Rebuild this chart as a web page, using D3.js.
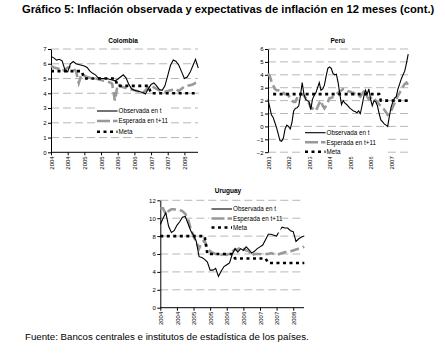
<!DOCTYPE html>
<meta charset="utf-8" />
<script src="https://d3js.org/d3.v7.min.js"></script>
<style>
  body { margin: 0; background: #fff; }
  text { font-family: Arial, "Liberation Sans", sans-serif; }
</style>
<div id="chart"></div>
<script>
  // 12-month inflation (%), monthly values

  // Colombia: Jan 2004 - Jun 2008
  const colombiaObs = [6.5, 6.4, 6.25, 6.3, 6.2, 5.6, 5.45, 6.0, 6.15, 6.0,
    5.95, 5.9, 5.85, 5.75, 5.5, 5.35, 5.25, 5.05, 5.0, 5.0,
    5.0, 4.95, 4.9, 4.85, 4.95, 5.1, 5.25, 5.05, 4.6, 4.3,
    4.2, 4.15, 4.1, 4.05, 3.95, 4.3, 4.6, 4.7, 4.5, 4.25,
    4.2, 4.5, 5.2, 5.9, 6.25, 6.15, 5.9, 5.45, 5.0, 5.1,
    5.4, 5.85, 6.3, 5.7];
  const colombiaExp = [5.85, 5.75, 5.7, 5.65, 5.5, 5.6, 5.75, 5.75, 5.7, 5.5,
    4.7, 5.3, 5.2, 5.1, 5.05, 5.0, 5.0, 4.95, 4.9, 4.85,
    4.8, 4.75, 4.65, 3.5, 4.6, 4.5, 4.4, 4.35, 4.3, 4.25,
    4.2, 4.15, 4.1, 4.0, 4.2, 4.4, 4.5, 4.4, 4.3, 4.2,
    4.1, 4.1, 4.15, 4.2, 4.25, 4.3, 4.15, 4.3, 4.45, 4.5,
    4.55, 4.6, 4.7, 4.75];
  const colombiaMeta = [5.5, 5.5, 5.5, 5.5, 5.5, 5.5, 5.5, 5.5, 5.5, 5.5, 5.5, 5.5,
    5.0, 5.0, 5.0, 5.0, 5.0, 5.0, 5.0, 5.0, 5.0, 5.0, 5.0, 5.0,
    4.5, 4.5, 4.5, 4.5, 4.5, 4.5, 4.5, 4.5, 4.5, 4.5, 4.5, 4.5,
    4.0, 4.0, 4.0, 4.0, 4.0, 4.0, 4.0, 4.0, 4.0, 4.0, 4.0, 4.0,
    4.0, 4.0, 4.0, 4.0, 4.0, 4.0];
  const colombiaTicks = ["2004", "2004", "2005", "2005", "2006", "2006", "2007", "2007", "2008"];

  // Perú: Jul 2001 - May 2008
  const peruObs = [2.1, 1.5, 0.9, 0.7, 0.3, -0.1, -0.6, -1.1, -1.15, -0.9,
    -0.2, 0.1, 0.0, -0.2, 0.3, 1.2, 1.4, 1.45, 1.6, 2.4,
    3.4, 2.5, 2.1, 2.0, 1.9, 1.3, 2.1, 2.4, 2.6, 3.0,
    3.4, 2.8, 2.9, 3.2, 3.9, 4.5, 4.6, 4.5, 4.1, 4.0,
    4.05, 3.4, 2.5, 1.7, 2.0, 1.8, 1.7, 1.55, 1.4, 1.3,
    1.2, 1.15, 1.05, 1.2, 1.0, 1.6, 2.3, 2.8, 2.5, 2.9,
    2.1, 1.6, 2.0, 1.9, 1.6, 1.0, 0.5, 0.35, 0.2, 0.1,
    0.0, 0.8, 1.5, 1.9, 2.2, 2.3, 2.9, 3.3, 3.7, 4.0,
    4.3, 4.9, 5.6];
  const peruExp = [4.1, 3.9, 3.5, 3.2, 2.9, 2.8, 2.8, 2.7, 2.6, 2.6,
    2.5, 2.5, 2.4, 2.2, 2.0, 1.9, 1.9, 2.2, 2.5, 2.5,
    2.5, 2.4, 2.2, 2.0, 1.8, 1.5, 1.4, 1.3, 1.2, 1.5,
    1.8, 2.0, 1.6, 1.4, 1.6, 1.9, 2.2, 2.2, 2.3, 2.4,
    2.5, 2.6, 2.7, 2.8, 2.9, 2.9, 2.8, 2.7, 2.7, 2.6,
    2.6, 2.5, 2.5, 2.4, 2.3, 2.5, 2.7, 2.7, 2.3, 2.1,
    2.2, 2.3, 2.2, 2.0, 1.9, 1.7, 1.6, 1.5, 1.3, 1.1,
    0.9, 1.0, 1.2, 1.5, 1.8, 2.1, 2.4, 2.6, 2.9, 3.1,
    3.3, 3.4, 3.2];
  const peruMeta = [null, null, null, 2.5, 2.5, 2.5, 2.5, 2.5, 2.5, 2.5,
    2.5, 2.5, 2.5, 2.5, 2.5, 2.5, 2.5, 2.5, 2.5, 2.5,
    2.5, 2.5, 2.5, 2.5, 2.5, 2.5, 2.5, 2.5, 2.5, 2.5,
    2.5, 2.5, 2.5, 2.5, 2.5, 2.5, 2.5, 2.5, 2.5, 2.5,
    2.5, 2.5, 2.5, 2.5, 2.5, 2.5, 2.5, 2.5, 2.5, 2.5,
    2.5, 2.5, 2.5, 2.5, 2.5, 2.5, 2.5, 2.5, 2.5, 2.5,
    2.5, 2.5, 2.5, 2.5, 2.5, 2.5, 2.0, 2.0, 2.0, 2.0,
    2.0, 2.0, 2.0, 2.0, 2.0, 2.0, 2.0, 2.0, 2.0, 2.0,
    2.0, 2.0, 2.0];
  const peruTicks = ["2001", "2002", "2003", "2004", "2005", "2006", "2007"];

  // Uruguay: Jan 2004 - May 2008
  const uruguayObs = [9.3, 10.0, 10.6, 9.1, 8.4, 8.6, 9.2, 9.6, 10.1, 10.2,
    9.4, 8.6, 8.1, 7.4, 5.7, 5.6, 5.4, 5.1, 4.2, 4.2,
    4.4, 3.5, 4.1, 4.6, 4.8, 5.0, 6.0, 6.6, 6.2, 6.6,
    6.4, 6.8, 6.5, 6.1, 6.3, 6.6, 6.8, 7.0, 7.6, 8.2,
    8.2, 8.1, 8.0, 8.6, 9.0, 8.9, 8.9, 8.6, 8.5, 7.4,
    7.7, 7.9, 8.0];
  const uruguayExp = [11.1, 11.1, 10.4, 10.8, 11.0, 11.0, 10.9, 10.9, 10.8, 10.5,
    9.9, 8.8, 8.0, 7.3, 6.6, 7.3, 7.5, 6.6, 6.3, 6.1,
    6.0, 6.0, 5.9, 6.0, 5.9, 6.1, 6.3, 6.5, 6.5, 6.8,
    6.6, 6.4, 6.3, 5.8, 6.0, 6.0, 6.0, 6.0, 6.0, 6.0,
    6.1, 6.0, 5.9, 6.0, 6.1, 6.2, 6.3, 6.3, 6.4, 6.5,
    6.6, 6.7, 6.8];
  const uruguayMeta = [8.0, 8.0, 8.0, 8.0, 8.0, 8.0, 8.0, 8.0, 8.0, 8.0,
    8.0, 8.0, 8.0, 8.0, 8.0, 8.0, 8.0, 6.0, 6.0, 6.0,
    6.0, 6.0, 6.0, 6.0, 6.0, 6.0, 6.0, 5.5, 5.5, 5.5,
    5.5, 5.5, 5.5, 5.5, 5.5, 5.5, 5.5, 5.5, 5.5, 5.0,
    5.0, 5.0, 5.0, 5.0, 5.0, 5.0, 5.0, 5.0, 5.0, 5.0,
    5.0, 5.0, 5.0];
  const uruguayTicks = ["2004", "2004", "2005", "2005", "2006", "2006", "2007", "2007", "2008"];

  const legendLabels = ["Observada en t", "Esperada en t+11", "Meta"];

  const svg = d3
    .select("#chart")
    .append("svg")
    .attr("width", 445)
    .attr("height", 364);

  svg
    .append("text")
    .attr("x", 22)
    .attr("y", 13)
    .style("font-size", "11.2px")
    .style("font-weight", "bold")
    .text("Gráfico 5: Inflación observada y expectativas de inflación en 12 meses (cont.)");

  svg
    .append("text")
    .attr("x", 25)
    .attr("y", 339.5)
    .style("font-size", "9.7px")
    .text("Fuente: Bancos centrales e institutos de estadística de los países.");

  function drawPanel(p) {
    const x = d3.scaleLinear().domain([0, p.obs.length - 1]).range([p.left, p.right]);
    const y = d3.scaleLinear().domain(p.yDomain).range([p.bottom, p.top]);
    const g = svg.append("g");

    // dashed gridlines
    g.append("g")
      .selectAll("line")
      .data(p.grid)
      .join("line")
      .attr("x1", p.left)
      .attr("x2", p.gridRight)
      .attr("y1", (d) => y(d))
      .attr("y2", (d) => y(d))
      .attr("stroke", "#a6a6a6")
      .attr("stroke-width", 0.8)
      .attr("stroke-dasharray", "8,4");

    // y axis
    const yAxis = g
      .append("g")
      .attr("transform", `translate(${p.left},0)`)
      .call(
        d3.axisLeft(y)
          .tickValues(p.yTicks)
          .tickFormat(d3.format("d"))
          .tickSize(3)
          .tickSizeOuter(0)
          .tickPadding(1.5)
      );
    yAxis.selectAll("text").style("font-size", "6px").style("font-family", "Arial, 'Liberation Sans', sans-serif");

    // x axis with rotated year labels
    const xAxis = g
      .append("g")
      .attr("transform", `translate(0,${p.bottom})`)
      .call(
        d3.axisBottom(x)
          .tickValues(p.ticks.map((t, i) => i * p.tickStep))
          .tickFormat((d) => p.ticks[d / p.tickStep])
          .tickSize(p.showXAxis ? 3 : 0)
          .tickSizeOuter(0)
      );
    xAxis.select(".domain").attr("d", `M${p.left},0H${p.gridRight}`);
    if (!p.showXAxis) xAxis.select(".domain").remove();
    xAxis
      .selectAll("text")
      .attr("transform", "rotate(-90)")
      .attr("x", -4)
      .attr("y", 0)
      .attr("dy", "0.35em")
      .attr("text-anchor", "end")
      .style("font-size", "6px")
      .style("font-family", "Arial, 'Liberation Sans', sans-serif");

    const line = d3
      .line()
      .defined((d) => d != null)
      .x((d, i) => x(i))
      .y((d) => y(d));

    g.append("path")
      .datum(p.exp)
      .attr("fill", "none")
      .attr("stroke", "#999999")
      .attr("stroke-width", 2.6)
      .attr("stroke-dasharray", "9,4")
      .attr("d", line);

    g.append("path")
      .datum(p.meta)
      .attr("fill", "none")
      .attr("stroke", "#000")
      .attr("stroke-width", 2.6)
      .attr("stroke-dasharray", "3,3.5")
      .attr("d", line);

    g.append("path")
      .datum(p.obs)
      .attr("fill", "none")
      .attr("stroke", "#000")
      .attr("stroke-width", 1.1)
      .attr("d", line);

    // title
    g.append("text")
      .attr("x", p.titleX)
      .attr("y", p.titleY)
      .attr("text-anchor", "middle")
      .style("font-size", "6.5px")
      .style("font-weight", "bold")
      .text(p.name);

    // legend
    const lg = g.append("g");
    lg.append("rect")
      .attr("x", p.legend.x - 2)
      .attr("y", p.legend.rows[0] - 5)
      .attr("width", p.legend.w)
      .attr("height", p.legend.rows[2] - p.legend.rows[0] + 10)
      .attr("fill", "#fff");
    const styles = [
      { stroke: "#000", width: 1.1, dash: null },
      { stroke: "#999999", width: 2.6, dash: "13,3" },
      { stroke: "#000", width: 2.6, dash: "3,3.5" },
    ];
    legendLabels.forEach((label, i) => {
      const ly = p.legend.rows[i];
      lg.append("line")
        .attr("x1", p.legend.x)
        .attr("x2", p.legend.x + 20.5)
        .attr("y1", ly)
        .attr("y2", ly)
        .attr("stroke", styles[i].stroke)
        .attr("stroke-width", styles[i].width)
        .attr("stroke-dasharray", styles[i].dash);
      lg.append("text")
        .attr("x", p.legend.x + 21.5)
        .attr("y", ly)
        .attr("dy", "0.35em")
        .style("font-size", "6.3px")
        .text(label);
    });
  }

  drawPanel({
    name: "Colombia", obs: colombiaObs, exp: colombiaExp, meta: colombiaMeta,
    ticks: colombiaTicks, tickStep: 6, showXAxis: true,
    left: 51, right: 198.3, gridRight: 198, top: 49, bottom: 152.3,
    yDomain: [0, 7], yTicks: d3.range(0, 8), grid: d3.range(1, 8),
    titleX: 123, titleY: 43,
    legend: { x: 97, w: 74, rows: [111, 121, 131.7] },
  });

  drawPanel({
    name: "Perú", obs: peruObs, exp: peruExp, meta: peruMeta,
    ticks: peruTicks, tickStep: 12, showXAxis: false,
    left: 268, right: 408.2, gridRight: 410, top: 49, bottom: 152.2,
    yDomain: [-2, 6], yTicks: d3.range(-2, 7), grid: d3.range(-2, 7),
    titleX: 337.7, titleY: 43,
    legend: { x: 305, w: 82, rows: [132.7, 142.3, 151.7] },
  });

  drawPanel({
    name: "Uruguay", obs: uruguayObs, exp: uruguayExp, meta: uruguayMeta,
    ticks: uruguayTicks, tickStep: 6, showXAxis: true,
    left: 160.3, right: 304.3, gridRight: 304, top: 200.3, bottom: 307.7,
    yDomain: [0, 12], yTicks: d3.range(0, 13, 2), grid: d3.range(2, 13, 2),
    titleX: 228, titleY: 193,
    legend: { x: 211.5, w: 71, rows: [209, 218.5, 227.5] },
  });
</script>
